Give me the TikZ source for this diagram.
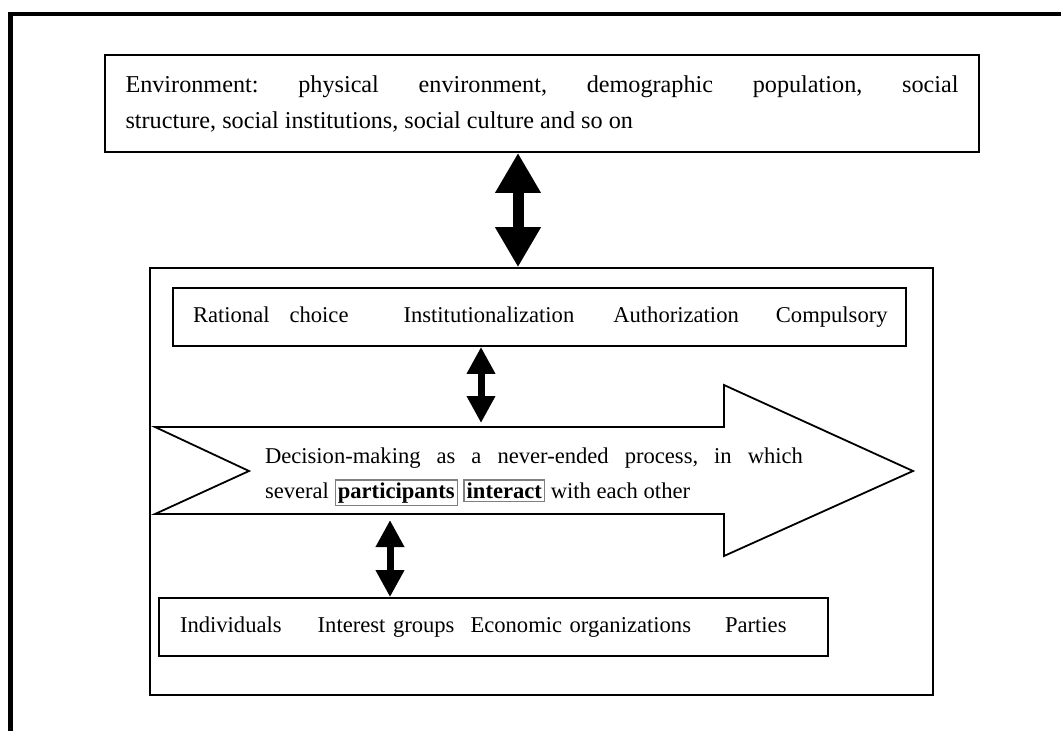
\documentclass[tikz,border=0pt]{standalone}
\usepackage{fontspec}
\setmainfont{Liberation Serif}
\usetikzlibrary{arrows.meta,positioning,calc}
\frenchspacing

\tikzset{
  box/.style={draw, line width=0.9pt, inner sep=0pt, font=\fontsize{11.3}{18}\selectfont},
  bigdblarrow/.style={line width=5.5pt, {Triangle[width=21.5pt,length=20pt]}-{Triangle[width=21.5pt,length=20pt]}},
  smalldblarrow/.style={line width=3.5pt, {Triangle[width=13.5pt,length=13.5pt]}-{Triangle[width=13.5pt,length=13.5pt]}}
}
\newcommand{\keyword}[1]{{\setlength{\fboxsep}{1pt}\setlength{\fboxrule}{0.6pt}\fcolorbox{gray}{white}{\textbf{#1}}}}

\begin{document}
\begin{tikzpicture}[x=0.5pt, y=-0.5pt]
            \useasboundingbox (0,0) rectangle (1061,730);
            % outer frame, cut off at right and bottom
            \draw [line width=2.4pt] (10.5,745) -- (10.5,14) -- (1075,14);
            \node [box, font=\fontsize{12.1}{18}\selectfont\frenchspacing, minimum width=437pt, minimum height=48.5pt, text width=416.5pt, align=justify] (env) at (542,103.5)
                  {Environment: physical environment, demographic population, social\linebreak structure, social institutions, social culture and so on};
            \node [draw, line width=0.8pt, minimum width=391.5pt, minimum height=213.5pt] (inner) at (541.5,481.5) {};
            \node [box, minimum width=366.5pt, minimum height=29pt, text width=346.5pt, align=left] (rational) at (539.5,317)
                  {\makebox[346.5pt][l]{Rational\hspace{10pt}choice\hspace{27.5pt}Institutionalization\hspace{19.5pt}Authorization\hspace{18.5pt}Compulsory}};
            % process arrow
            \draw [line width=0.9pt] (155,427) coordinate (p-tl) -- (249,471) -- (155,514) coordinate (p-bl)
                  -- (724,514) -- (724,556) -- (913,471) -- (724,385) -- (724,427) -- cycle;
            \node [font=\fontsize{11.3}{17.5}\selectfont\frenchspacing, text width=269pt, align=justify, inner sep=0pt] (process) at (534,477)
                  {Decision-making as a never-ended process, in which\linebreak several \keyword{participants} \keyword{interact} with each other};
            \node [box, minimum width=334.5pt, minimum height=29pt, text width=313.5pt, align=left] (people) at (493.5,627)
                  {Individuals\hspace{18pt}Interest groups\hspace{8pt}Economic organizations\hspace{17pt}Parties};
            % connectors
            \coordinate (a1) at (518,0);
            \coordinate (a2) at (481,0);
            \coordinate (a3) at (390,0);
            \draw [bigdblarrow] (env.south -| a1) -- (inner.north -| a1);
            \draw [smalldblarrow, shorten >=2pt] (rational.south -| a2) -- (a2 |- p-tl);
            \draw [smalldblarrow, shorten <=3pt] (a3 |- p-bl) -- (people.north -| a3);
          \end{tikzpicture}
\end{document}
